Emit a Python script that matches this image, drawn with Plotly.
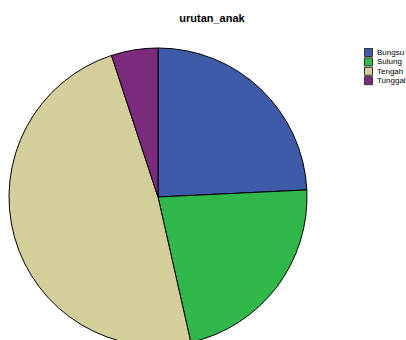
import plotly.graph_objects as go

categories = ["Bungsu", "Sulung", "Tengah", "Tunggal"]
counts = [24, 22, 48, 5]
colors = ["#3F5AA9", "#30B84B", "#D4CF9A", "#7D2A7E"]

W, H = 406, 350
T, B = 48, 4
PH = H - T - B


def px_x(px):
    return px / W


def px_y(py):
    return 1 - (py - T) / PH


fig = go.Figure(go.Pie(
    labels=categories,
    values=counts,
    sort=False,
    direction="clockwise",
    rotation=0,
    textinfo="none",
    hoverinfo="label+value+percent",
    marker=dict(colors=colors, line=dict(color="black", width=1)),
    domain=dict(x=[9 / W, 307 / W], y=[0, 1]),
    showlegend=False,
))

# compact legend (SPSS style): small swatches with labels
for i, (cat, col) in enumerate(zip(categories, colors)):
    y0 = 48.5 + i * 9.4
    fig.add_shape(type="rect", xref="paper", yref="paper",
                  x0=px_x(364.5), x1=px_x(372.5), y0=px_y(y0), y1=px_y(y0 + 8),
                  fillcolor=col, line=dict(color="#333333", width=1))
    fig.add_annotation(text=cat, xref="paper", yref="paper",
                       x=px_x(375), y=px_y(y0 + 4), xanchor="left", yanchor="middle",
                       showarrow=False, font=dict(size=8, color="black"))

fig.update_layout(
    width=W, height=H,
    margin=dict(l=0, r=0, t=T, b=B, autoexpand=False),
    paper_bgcolor="white",
    plot_bgcolor="white",
    font=dict(family="Liberation Sans, Arial, sans-serif", color="black"),
    title=dict(text="<b>urutan_anak</b>", x=212 / W, xanchor="center",
               yref="container", y=1 - 18 / H, yanchor="middle",
               font=dict(size=11, color="black")),
    showlegend=False,
)

fig.write_html("out.html", config={"displayModeBar": False},
               post_script="document.body.style.margin='0';document.body.style.overflow='hidden';")
